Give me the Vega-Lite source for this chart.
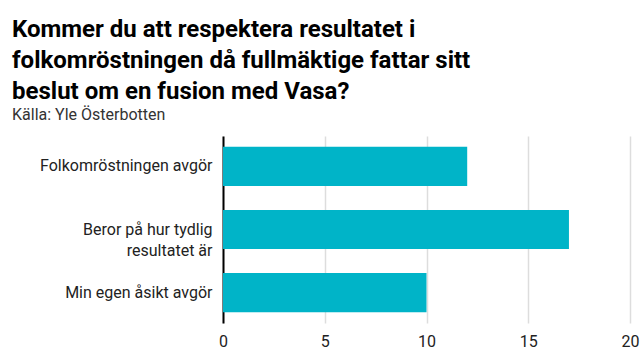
{
  "$schema": "https://vega.github.io/schema/vega-lite/v6.json",
  "width": 407,
  "height": 187,
  "autosize": {"type": "none"},
  "padding": {"left": 223, "top": 136, "right": 10, "bottom": 37},
  "background": "white",
  "title": {
    "text": ["Kommer du att respektera resultatet i", "folkomröstningen då fullmäktige fattar sitt", "beslut om en fusion med Vasa?"],
    "subtitle": "Källa: Yle Österbotten",
    "anchor": "start",
    "frame": "group",
    "dx": -211,
    "offset": 13,
    "font": "Roboto",
    "fontSize": 24,
    "fontWeight": "bold",
    "lineHeight": 31,
    "color": "#000000",
    "subtitleFont": "Roboto",
    "subtitleFontSize": 16,
    "subtitleColor": "#333333",
    "subtitlePadding": 3
  },
  "data": {
    "values": [
      {"svar": "Folkomröstningen avgör", "antal": 12},
      {"svar": "Beror på hur tydlig resultatet är", "antal": 17},
      {"svar": "Min egen åsikt avgör", "antal": 10}
    ]
  },
  "mark": {"type": "bar", "color": "#00b4c8"},
  "encoding": {
    "y": {
      "field": "svar",
      "type": "nominal",
      "sort": null,
      "title": null,
      "scale": {"paddingInner": 0.38, "paddingOuter": 0.17},
      "axis": {
        "domain": true,
        "domainColor": "#000000",
        "domainWidth": 2,
        "ticks": false,
        "labelPadding": 11,
        "labelFont": "Roboto",
        "labelFontSize": 16,
        "labelColor": "#222222",
        "labelLimit": 300,
        "labelLineHeight": 21,
        "labelExpr": "datum.label == 'Beror på hur tydlig resultatet är' ? ['Beror på hur tydlig', 'resultatet är'] : datum.label"
      }
    },
    "x": {
      "field": "antal",
      "type": "quantitative",
      "title": null,
      "scale": {"domain": [0, 20], "nice": false},
      "axis": {
        "values": [0, 5, 10, 15, 20],
        "domain": false,
        "ticks": false,
        "grid": true,
        "gridColor": "#dddddd",
        "gridWidth": 1.5,
        "labelFlush": false,
        "labelFont": "Roboto",
        "labelFontSize": 16,
        "labelColor": "#222222",
        "labelPadding": 10
      }
    }
  },
  "config": {"view": {"stroke": null}}
}
